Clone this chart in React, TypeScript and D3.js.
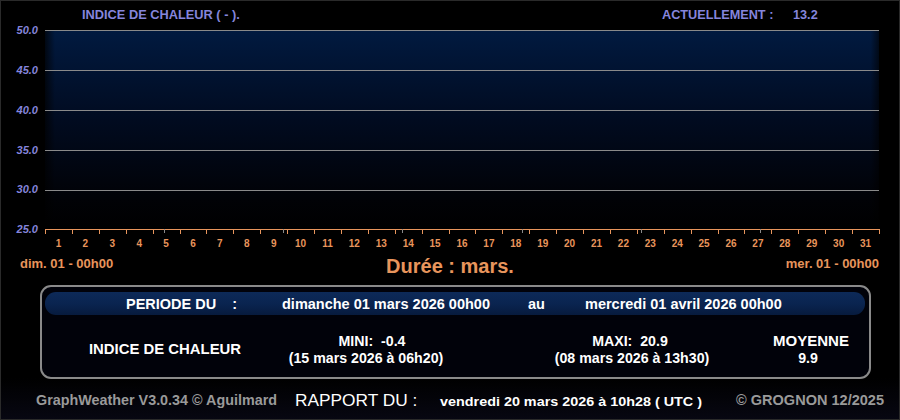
import React from "react";
import * as d3 from "d3";

// Axis and report contents
const yTicks = [25, 30, 35, 40, 45, 50];
const days = d3.range(1, 32);
const weekDivisions = [1, 2, 3, 4, 5, 6];
const title = "INDICE DE CHALEUR ( - ).";
const currentLabel = "ACTUELLEMENT :";
const currentValue = "13.2";
const startLabel = "dim. 01 - 00h00";
const endLabel = "mer. 01 - 00h00";
const durationLabel = "Durée : mars.";
const periodParts = ["PERIODE DU    :", "dimanche 01 mars 2026 00h00", "au", "mercredi 01 avril 2026 00h00"];
const seriesName = "INDICE DE CHALEUR";
const miniValue = -0.4;
const miniDate = "(15 mars 2026 à 06h20)";
const maxiValue = 20.9;
const maxiDate = "(08 mars 2026 à 13h30)";
const meanValue = 9.9;
const footerLeft = "GraphWeather V3.0.34 © Aguilmard";
const reportLabel = "RAPPORT DU :";
const reportDate = "vendredi 20 mars 2026 à 10h28 ( UTC )";
const footerRight = "© GROGNON 12/2025";

const W = 900;
const H = 420;
const FONT = "'Liberation Sans', Arial, sans-serif";
const plot = { left: 45, right: 879, top: 30, bottom: 229.5 };
const ORANGE = "#e8955c";
const LAVENDER = "#8585dc";

export default function App() {
  const y = d3.scaleLinear().domain([25, 50]).range([plot.bottom, plot.top]);
  const x = d3.scaleLinear().domain([0, 31]).range([plot.left, plot.right]);
  const nDays = days.length;

  return (
    <svg
      width={W}
      height={H}
      style={{ position: "absolute", left: 0, top: 0, background: "#000" }}
      fontFamily={FONT}
    >
      <defs>
        <linearGradient id="plotBg" x1="0" y1="0" x2="0" y2="1">
          <stop offset="0" stopColor="#011a40" />
          <stop offset="0.45" stopColor="#010b20" />
          <stop offset="0.85" stopColor="#010206" />
          <stop offset="1" stopColor="#000000" />
        </linearGradient>
        <linearGradient id="plotEdges" x1="0" y1="0" x2="1" y2="0">
          <stop offset="0" stopColor="#000" stopOpacity="0.7" />
          <stop offset="0.012" stopColor="#000" stopOpacity="0" />
          <stop offset="0.99" stopColor="#000" stopOpacity="0" />
          <stop offset="1" stopColor="#000" stopOpacity="0.6" />
        </linearGradient>
        <linearGradient id="barBg" x1="0" y1="0" x2="0" y2="1">
          <stop offset="0" stopColor="#0d2a58" />
          <stop offset="0.5" stopColor="#0a2450" />
          <stop offset="1" stopColor="#071b3e" />
        </linearGradient>
        <linearGradient id="footBg" x1="0" y1="0" x2="0" y2="1">
          <stop offset="0" stopColor="#000000" />
          <stop offset="1" stopColor="#070712" />
        </linearGradient>
      </defs>

      {/* frame */}
      <rect x={0} y={0} width={W} height={H} fill="#000" />
      <rect x={0} y={378} width={W} height={H - 378} fill="url(#footBg)" />
      <rect x={0.5} y={0.5} width={W - 1} height={H - 1} fill="none" stroke="#2a2a2a" />

      {/* plot background */}
      <rect x={plot.left} y={plot.top} width={plot.right - plot.left} height={plot.bottom - plot.top} fill="url(#plotBg)" />
      <rect x={plot.left} y={plot.top} width={plot.right - plot.left} height={plot.bottom - plot.top} fill="url(#plotEdges)" />

      {/* horizontal grid and y labels */}
      {yTicks.map((t) => (
        <g key={t}>
          {t > 25 && (
            <line x1={plot.left} x2={plot.right} y1={Math.round(y(t)) + 0.5} y2={Math.round(y(t)) + 0.5} stroke="#8a8a8a" strokeWidth={1} />
          )}
          <text
            x={38}
            y={y(t)}
            dy="0.35em"
            textAnchor="end"
            fontSize={11}
            fontStyle="italic"
            fontWeight="bold"
            fill={LAVENDER}
          >
            {t.toFixed(1)}
          </text>
        </g>
      ))}

      {/* x axis */}
      <line x1={plot.left} x2={plot.right} y1={229.5} y2={229.5} stroke={ORANGE} strokeWidth={1} />
      {d3.range(0, nDays + 1).map((i) => (
        <line key={"t" + i} x1={Math.round(x(i)) + 0.5} x2={Math.round(x(i)) + 0.5} y1={229} y2={234} stroke={ORANGE} strokeWidth={1} />
      ))}
      {weekDivisions.map((k) => {
        const px = Math.round(x((nDays / 7) * k)) + 0.5;
        return <line key={"w" + k} x1={px} x2={px} y1={229} y2={233} stroke="#8a8a8a" strokeWidth={1} />;
      })}
      {days.map((d) => (
        <text
          key={"d" + d}
          x={x(d - 0.5)}
          y={243}
          dy="0.35em"
          textAnchor="middle"
          fontSize={10}
          fontWeight="bold"
          fill={ORANGE}
        >
          {d}
        </text>
      ))}

      {/* top labels */}
      <text x={82} y={15} dy="0.35em" fontSize={12.8} fontWeight="bold" fill={LAVENDER}>{title}</text>
      <text x={662} y={15} dy="0.35em" fontSize={12.7} fontWeight="bold" fill={LAVENDER}>{currentLabel}</text>
      <text x={793} y={15} dy="0.35em" fontSize={12.7} fontWeight="bold" fill={LAVENDER}>{currentValue}</text>

      {/* period labels */}
      <text x={20} y={263} dy="0.35em" fontSize={13} fontWeight="bold" fill={ORANGE}>{startLabel}</text>
      <text x={879} y={263} dy="0.35em" textAnchor="end" fontSize={13} fontWeight="bold" fill={ORANGE}>{endLabel}</text>
      <text x={450} y={266} dy="0.35em" textAnchor="middle" fontSize={20} fontWeight="bold" fill={ORANGE}>{durationLabel}</text>

      {/* report panel */}
      <rect x={41} y={286} width={829} height={92} rx={10} ry={10} fill="#01020a" stroke="#8a8a8a" strokeWidth={2} />
      <rect x={45} y={292} width={820} height={23} rx={11} ry={11} fill="url(#barBg)" />
      <text x={126} y={303.5} dy="0.35em" fontSize={14.5} fontWeight="bold" fill="#fff" style={{ whiteSpace: "pre" }}>{periodParts[0]}</text>
      <text x={282} y={303.5} dy="0.35em" fontSize={14.5} fontWeight="bold" fill="#fff">{periodParts[1]}</text>
      <text x={528} y={303.5} dy="0.35em" fontSize={14.5} fontWeight="bold" fill="#fff">{periodParts[2]}</text>
      <text x={585} y={303.5} dy="0.35em" fontSize={14.5} fontWeight="bold" fill="#fff">{periodParts[3]}</text>

      <text x={165} y={349} dy="0.35em" textAnchor="middle" fontSize={14.9} fontWeight="bold" fill="#fff">{seriesName}</text>
      <text x={372} y={341} dy="0.35em" textAnchor="middle" fontSize={14.2} fontWeight="bold" fill="#fff" style={{ whiteSpace: "pre" }}>{`MINI:  ${miniValue.toFixed(1)}`}</text>
      <text x={366} y={358} dy="0.35em" textAnchor="middle" fontSize={14.2} fontWeight="bold" fill="#fff">{miniDate}</text>
      <text x={630} y={341} dy="0.35em" textAnchor="middle" fontSize={14.2} fontWeight="bold" fill="#fff" style={{ whiteSpace: "pre" }}>{`MAXI:  ${maxiValue.toFixed(1)}`}</text>
      <text x={632} y={358} dy="0.35em" textAnchor="middle" fontSize={14.2} fontWeight="bold" fill="#fff">{maxiDate}</text>
      <text x={811} y={341} dy="0.35em" textAnchor="middle" fontSize={15} fontWeight="bold" fill="#fff">MOYENNE</text>
      <text x={808} y={358} dy="0.35em" textAnchor="middle" fontSize={14.2} fontWeight="bold" fill="#fff">{meanValue.toFixed(1)}</text>

      {/* footer */}
      <text x={36} y={400} dy="0.35em" fontSize={14} fontWeight="bold" fill="#9a9a9a" textLength={241} lengthAdjust="spacingAndGlyphs">{footerLeft}</text>
      <text x={295} y={400} dy="0.35em" fontSize={17.3} fill="#fff">{reportLabel}</text>
      <text x={440} y={401} dy="0.35em" fontSize={13.5} fontWeight="bold" fill="#fff" textLength={262} lengthAdjust="spacingAndGlyphs">{reportDate}</text>
      <text x={736} y={400} dy="0.35em" fontSize={14} fontWeight="bold" fill="#9a9a9a" textLength={148} lengthAdjust="spacingAndGlyphs">{footerRight}</text>
    </svg>
  );
}
